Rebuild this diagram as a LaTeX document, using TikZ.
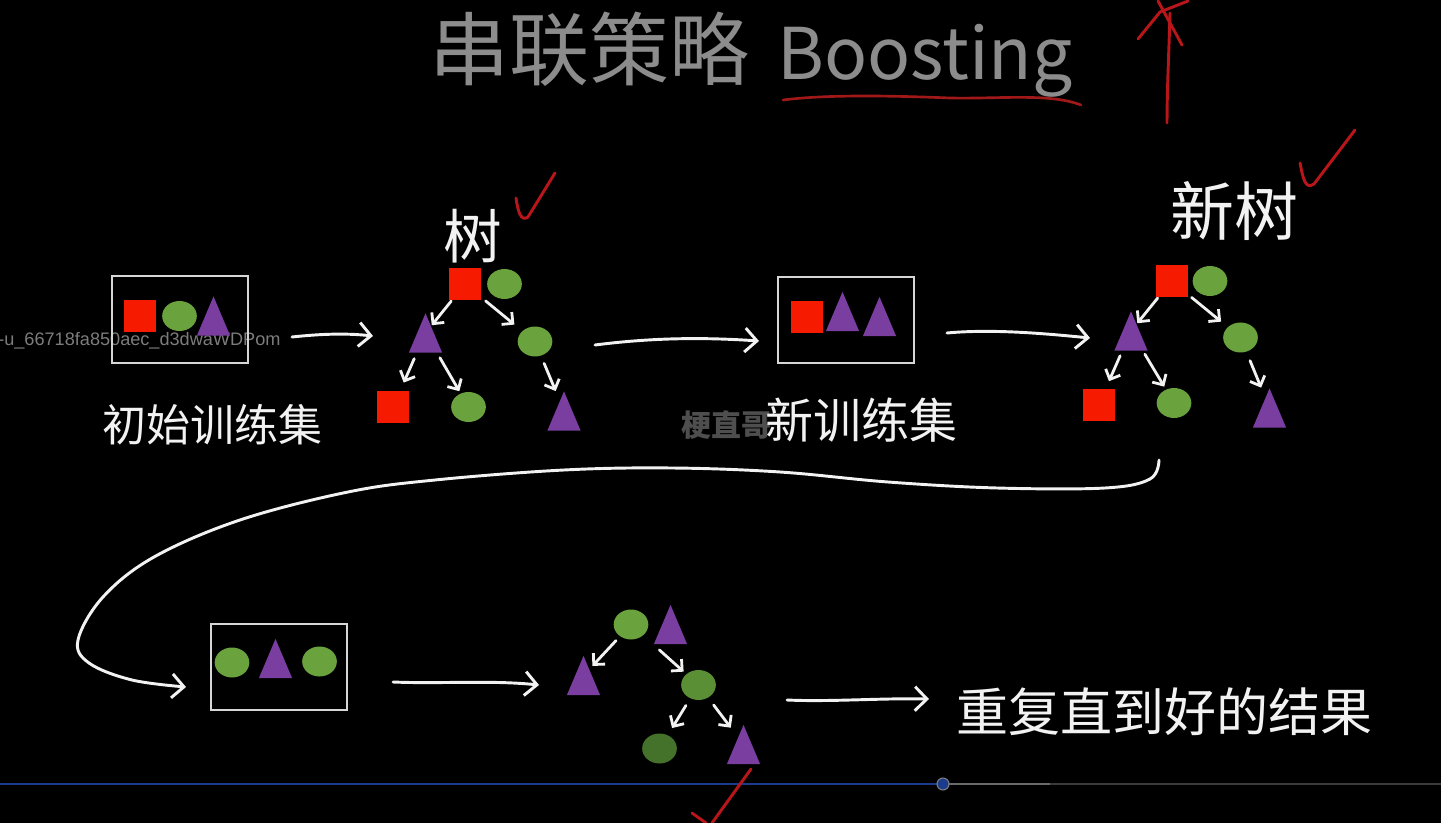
\documentclass[tikz,border=0pt]{standalone}
\usepackage{fontspec}
\setmainfont{Liberation Sans}
\newfontfamily\cjk{Noto Sans CJK SC}
\usetikzlibrary{shapes.geometric,arrows.meta}
\definecolor{cred}{HTML}{F51A00}
\definecolor{cgreen}{HTML}{6AA23E}
\definecolor{cgreenb}{HTML}{5A8F35}
\definecolor{cgreenc}{HTML}{44722B}
\definecolor{cpurple}{HTML}{7A3EA0}
\definecolor{cbox}{HTML}{D6D6D6}
\definecolor{cwhite}{HTML}{F2F2F2}
\definecolor{cink}{HTML}{B8161A}
\definecolor{cinkd}{HTML}{A01818}
\definecolor{ctitle}{HTML}{8C8C8C}
\definecolor{cwm}{HTML}{7C7C7C}
\definecolor{cwm2}{HTML}{4E4E4E}
\definecolor{cblue}{HTML}{1B3C8C}
\definecolor{cgrayA}{HTML}{6A6A6A}
\definecolor{cgrayB}{HTML}{3A3A3A}
\newcommand\mytri[3]{\node[trinode] (#1) at (#2,#3) {};
  \fill[cpurple] (#1.south west) -- (#1.south east) -- (#1.north) -- cycle;}
\tikzset{
 sq/.style={rectangle, fill=cred, minimum width=24pt, minimum height=24pt, inner sep=0pt},
 el/.style={ellipse, fill=cgreen, minimum width=26pt, minimum height=22.5pt, inner sep=0pt},
 trinode/.style={rectangle, minimum width=24.5pt, minimum height=29pt, inner sep=0pt},
 setbox/.style={rectangle, draw=cbox, line width=1.5pt, minimum width=102pt, minimum height=65pt, inner sep=0pt},
 tarrow/.style={draw=cwhite, line width=2.1pt, line cap=round, -{Straight Barb[length=6pt,width=12pt]}},
 harrow/.style={draw=cwhite, line width=2.2pt, line cap=round, -{Straight Barb[length=9pt,width=18pt]}},
 hand/.style={text=cwhite, inner sep=0pt},
 redink/.style={draw=cink, line width=2.2pt, line cap=round, line join=round},
}
\begin{document}
\begin{tikzpicture}[x=0.75pt,y=-0.75pt]
\fill[black] (0,0) rectangle (1441,823);
\useasboundingbox (0,0) rectangle (1441,823);

% title
\node[text=ctitle, inner sep=0pt, anchor=base west, font=\cjk\fontsize{60pt}{60pt}\selectfont] (title) at (429,80) {串联策略\hspace{21pt}{\fontsize{53.5pt}{54pt}\selectfont Boosting}};
\draw[draw=cinkd, line width=2pt, line cap=round] (783,100) .. controls (830,94) and (900,96) .. (950,98) .. controls (1000,99) and (1050,93) .. (1081,105);

% red marks top right
\draw[redink] (1170,13) .. controls (1169,50) and (1167,90) .. (1167,123);
\draw[redink] (1138,39) -- (1160,12) -- (1188,1);
\draw[redink] (1158,1) -- (1182,45);

% watermark text
\node[text=cwm, inner sep=0pt, anchor=west, font=\fontsize{13.6pt}{14pt}\selectfont] (wm) at (-2,341) {-u\_66718fa850aec\_d3dwaWDPom};
\node[text=cwm2, inner sep=0pt, font=\cjk\bfseries\fontsize{22.5pt}{23pt}\selectfont] (wm2) at (726,425) {梗直哥};

% box 1
\node[setbox] (b1) at (179.5,319.5) {};
\node[sq] (b1s) at (140,316) {};
\node[el] (b1g) at (179.5,316) {};
\mytri{b1t}{213.5}{316}
\node[hand, font=\cjk\fontsize{33pt}{33pt}\selectfont] (lab1) at (212,425) {初始训练集};

% tree 1
\node[hand, font=\cjk\fontsize{44pt}{44pt}\selectfont] (lab2) at (473,236) {树};
\node[sq] (r1) at (465,284) {};
\node[el] (g1) at (504.5,284) {};
\mytri{t1}{425.5}{333}
\node[el] (g2) at (535,341.5) {};
\node[sq] (s2) at (393,407) {};
\node[el] (g3) at (468.5,407) {};
\mytri{t2}{564}{411}
\draw[tarrow, shorten <=16.5pt, shorten >=7.5pt] (r1.center) -- (t1.center);
\draw[tarrow, shorten <=20pt, shorten >=20pt] (r1.center) -- (g2.center);
\draw[tarrow, shorten <=21pt, shorten >=20pt] (t1.center) -- (s2.center);
\draw[tarrow, shorten <=21.5pt, shorten >=13.7pt] (t1.center) -- (g3.center);
\draw[tarrow, shorten <=17.8pt, shorten >=16.2pt] (g2.center) -- (t2.center);
\draw[redink] (516,198) .. controls (518,212) and (521,222) .. (528,217) -- (555,173);

% box 2
\node[setbox] (b2) at (845.5,320) {};
\node[sq] (b2s) at (806.5,317) {};
\mytri{b2t}{842.5}{311.5}
\mytri{b2u}{879.5}{316.5}
\node[hand, font=\cjk\fontsize{36pt}{36pt}\selectfont] (lab3) at (861,420) {新训练集};

% tree 2
\node[hand, font=\cjk\fontsize{48pt}{48pt}\selectfont] (lab4) at (1234,211) {新树};
\draw[redink] (1300,163) .. controls (1303,178) and (1305,190) .. (1314,184) -- (1355,130);
\node[sq] (R) at (1171.5,281) {};
\node[el] (G) at (1210,281) {};
\mytri{T}{1131}{331}
\node[el] (G2) at (1240.5,337.5) {};
\node[sq] (S) at (1098.5,405) {};
\node[el] (G3) at (1174,403) {};
\mytri{T2}{1269.5}{408}
\draw[tarrow, shorten <=16.5pt, shorten >=7.5pt] (R.center) -- (T.center);
\draw[tarrow, shorten <=19.5pt, shorten >=18.8pt] (R.center) -- (G2.center);
\draw[tarrow, shorten <=20.3pt, shorten >=19.5pt] (T.center) -- (S.center);
\draw[tarrow, shorten <=20.3pt, shorten >=14.3pt] (T.center) -- (G3.center);
\draw[tarrow, shorten <=18.8pt, shorten >=16.5pt] (G2.center) -- (T2.center);

% box 3
\node[setbox] (b3) at (279,667) {};
\node[el] (b3g) at (232,662.5) {};
\mytri{b3t}{275.5}{658.5}
\node[el] (b3h) at (319.5,661.5) {};

% tree 3
\node[el] (g0) at (631,624.5) {};
\mytri{p0}{670.5}{624.5}
\mytri{pL}{583.5}{675.5}
\node[el, fill=cgreenb] (gR) at (698.5,685) {};
\node[el, fill=cgreenc] (gB) at (659.5,748.5) {};
\mytri{pB}{743.5}{744.5}
\draw[tarrow, shorten <=16.5pt, shorten >=9.8pt] (g0.center) -- (pL.center);
\draw[tarrow, shorten <=28.5pt, shorten >=15pt] (g0.center) -- (gR.center);
\draw[tarrow, shorten <=18pt, shorten >=18pt] (gR.center) -- (gB.center);
\draw[tarrow, shorten <=18.8pt, shorten >=15.8pt] (gR.center) -- (pB.center);

\node[hand, font=\cjk\fontsize{39pt}{39pt}\selectfont] (lab5) at (1164,712) {重复直到好的结果};

% hand-drawn stage arrows
\coordinate (a1s) at (292,337); \coordinate (a1e) at (373,336);
\coordinate (a2s) at (595,345); \coordinate (a2e) at (759,341);
\coordinate (a3s) at (947,333); \coordinate (a3e) at (1090,338);
\coordinate (a4s) at (393,682); \coordinate (a4e) at (539,685);
\coordinate (a5s) at (787,700); \coordinate (a5e) at (929,699);
\draw[harrow] (a1s) .. controls (320,334) and (345,333) .. (a1e);
\draw[harrow] (a2s) .. controls (650,338) and (700,337) .. (a2e);
\draw[harrow] (a3s) .. controls (990,329) and (1040,333) .. (a3e);
\draw[harrow] (a4s) .. controls (440,684) and (490,680) .. (a4e);
\draw[harrow] (a5s) .. controls (830,702) and (880,698) .. (a5e);
\draw[harrow] plot[smooth, tension=0.6] coordinates {(1159,460) (1150,479) (1105,488) (997,488) (888,482) (780,472) (672,468) (564,470) (435,480) (348,492) (240,520) (154,557) (103,597) (78,640) (89,663) (132,680) (186,687)};

% progress bar
\draw[cblue, line width=1.5pt] (0,784) -- (937,784);
\draw[cgrayA, line width=1.5pt] (949,784) -- (1050,784);
\draw[cgrayB, line width=1.5pt] (1050,784) -- (1441,784);
\node[circle, fill=cblue, draw=gray, line width=0.8pt, minimum size=9pt, inner sep=0pt] (knob) at (943,784) {};

% bottom red mark
\draw[redink] (751,769) -- (712,823);
\draw[redink] (692,813) -- (706,823);
\end{tikzpicture}
\end{document}
